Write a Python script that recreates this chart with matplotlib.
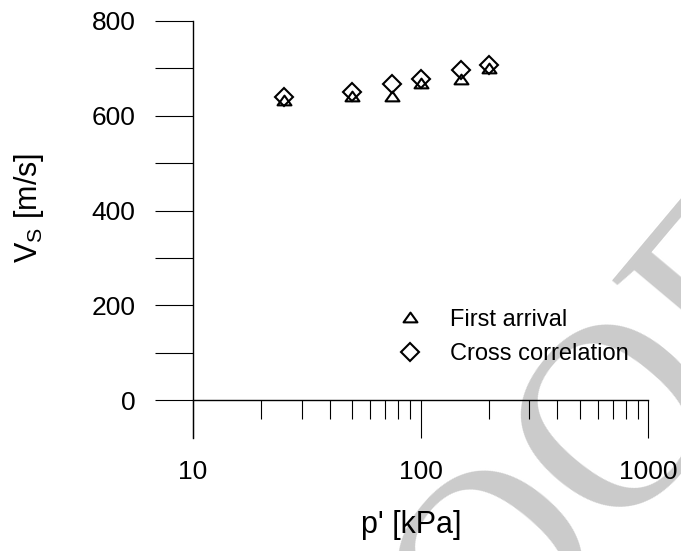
import matplotlib
matplotlib.use("Agg")
import matplotlib.pyplot as plt
import numpy as np
from matplotlib.path import Path

plt.rcParams["font.family"] = ["Liberation Sans", "DejaVu Sans"]
plt.rcParams["mathtext.fontset"] = "custom"
plt.rcParams["mathtext.rm"] = "Liberation Sans"

# data
p_kpa = [25, 50, 75, 100, 150, 200]
vs_first_arrival = [633, 642, 642, 669, 677, 700]
vs_cross_corr = [640, 650, 668, 678, 696, 707]

y_ticks = [0, 100, 200, 300, 400, 500, 600, 700, 800]
y_ticklabels = ["0", "", "200", "", "400", "", "600", "", "800"]
x_ticks = [10, 100, 1000]
x_ticklabels = ["10", "100", "1000"]

# flat open triangle, wider than tall
tri = Path([(-1, -0.7), (1, -0.7), (0, 0.7), (-1, -0.7)],
           [Path.MOVETO, Path.LINETO, Path.LINETO, Path.CLOSEPOLY])

fig = plt.figure(figsize=(6.81, 5.51), dpi=100)
ax = fig.add_axes([193 / 681, 1 - 438 / 551, 455 / 681, 417 / 551])
ax.patch.set_alpha(0)

# faint watermark behind everything
fig.text(0.424, -0.70, "PROOF ONLY", family="Liberation Serif", fontsize=190,
         color="#cbcbcb", rotation=50, rotation_mode="anchor",
         ha="left", va="baseline", zorder=-1)

ax.plot(p_kpa, vs_first_arrival, ls="none", marker=tri, ms=10, mfc="none",
        mec="black", mew=1.5, label="First arrival")
ax.plot(p_kpa, vs_cross_corr, ls="none", marker="D", ms=9, mfc="none",
        mec="black", mew=1.5, label="Cross correlation")

ax.set_xscale("log")
ax.set_xlim(10, 1000)
ax.set_ylim(-80, 800)

for side in ("top", "right"):
    ax.spines[side].set_visible(False)
ax.spines["bottom"].set_position(("data", 0))
ax.spines["left"].set_linewidth(1.0)
ax.spines["bottom"].set_linewidth(1.0)

ax.set_yticks(y_ticks)
ax.set_yticklabels(y_ticklabels)
ax.set_xticks(x_ticks)
ax.set_xticklabels(x_ticklabels)
ax.tick_params(axis="both", which="major", direction="out", length=27.4,
               width=0.8, labelsize=19)
ax.tick_params(axis="y", pad=14)
ax.tick_params(axis="x", pad=16)
ax.tick_params(axis="x", which="minor", direction="out", length=13.7, width=0.8)

ax.set_xlabel("p' [kPa]", fontsize=22)
ax.xaxis.set_label_coords((411 - 193) / 455, (438 - 510) / 417)
ax.set_ylabel(r"V$_\mathregular{S}$ [m/s]", fontsize=22)
ax.yaxis.set_label_coords((46 - 193) / 455, (438 - 208) / 417)

ax.legend(loc="center left", bbox_to_anchor=((398 - 193) / 455, (438 - 337) / 417),
          frameon=False, fontsize=17, handlelength=1.0, handletextpad=1.2,
          labelspacing=0.55, borderpad=0, borderaxespad=0)

fig.savefig("out.png", dpi=100)
